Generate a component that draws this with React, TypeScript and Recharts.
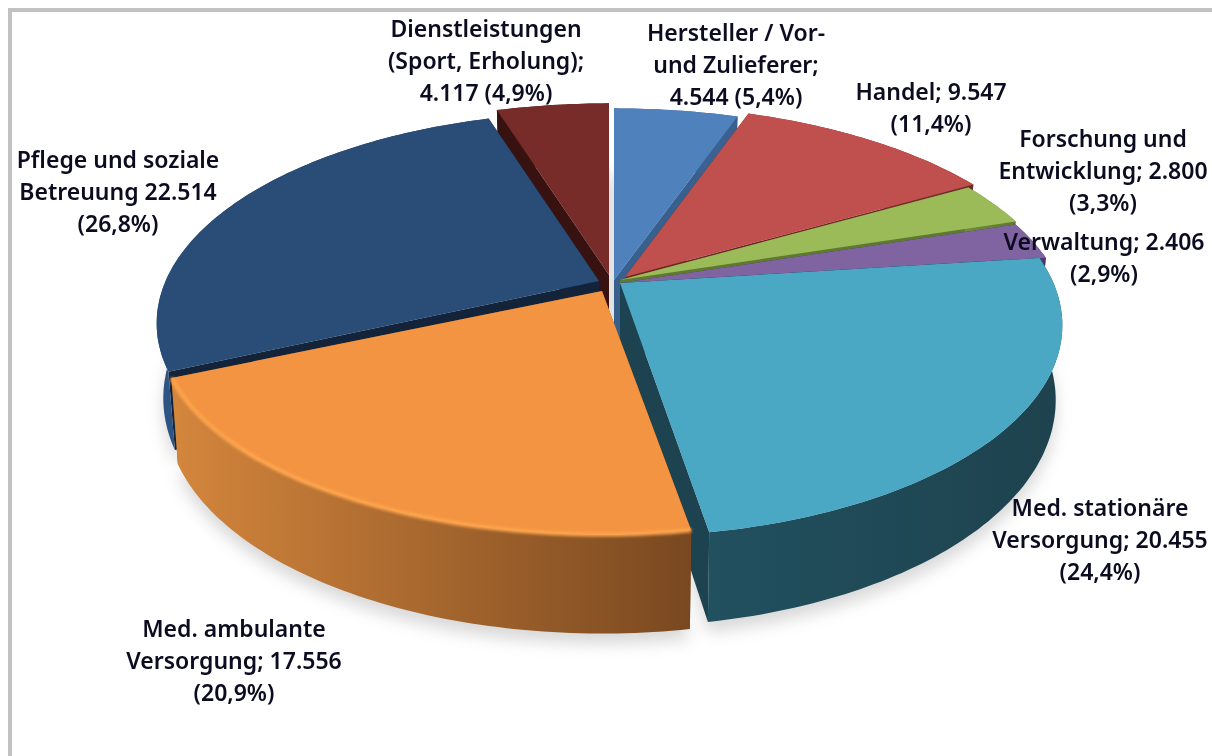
import React from 'react';
import { PieChart, Pie } from 'recharts';

const categories = ['Hersteller / Vor- und Zulieferer', 'Handel', 'Forschung und Entwicklung', 'Verwaltung', 'Med. stationäre Versorgung', 'Med. ambulante Versorgung', 'Pflege und soziale Betreuung', 'Dienstleistungen (Sport, Erholung)'];
const values = [4544, 9547, 2800, 2406, 20455, 17556, 22514, 4117];
const labelLines = [
  ['Hersteller / Vor-', 'und Zulieferer;', '4.544 (5,4%)'],
  ['Handel; 9.547', '(11,4%)'],
  ['Forschung und', 'Entwicklung; 2.800', '(3,3%)'],
  ['Verwaltung; 2.406', '(2,9%)'],
  ['Med. stationäre', 'Versorgung; 20.455', '(24,4%)'],
  ['Med. ambulante', 'Versorgung; 17.556', '(20,9%)'],
  ['Pflege und soziale', 'Betreuung 22.514', '(26,8%)'],
  ['Dienstleistungen', '(Sport, Erholung);', '4.117 (4,9%)'],
];

const topColors = ['#4f81bd', '#c0504d', '#9bbb59', '#8064a2', '#4aa8c5', '#f39442', '#2a4d78', '#772c2a'];
const wallLeft = ['#3f6898', '#8a3835', '#6f8a3c', '#5c4678', '#21505f', '#d4863c', '#2f5585', '#381210'];
const wallRight = ['#3a6090', '#6f2a28', '#5f7a30', '#4c3868', '#1e424e', '#794820', '#1f3a5c', '#381210'];
const cutColors = ['#38608e', '#6e2624', '#5f7a30', '#3e2e58', '#1e4350', '#7a4a20', '#13233a', '#381210'];
const rimColors = ['', '', '', '', '', '#ffa64e', '', ''];
const offsets = [[2, 0], [13, -3], [8, 0], [8, 3], [8, 3], [-10, 11], [-13, 1], [-3, -5]];
const sliceScale = [1, 1, 1, 1, 0.985, 0.985, 0.985, 1];
const sliceSquash = [1, 1, 1, 1, 1, 0.96, 1, 1];
const sliceDepth = [1, 1, 1, 1, 1, 1.1, 1, 1];
const labelX = [736, 931, 1103, 1104, 1100, 234, 118, 486];
const labelY = [41, 100, 147, 250, 516, 637, 168, 37];
const layers = [[7], [0, 1, 2, 3, 4], [6], [5]];

const CX = 612, CY = 280, RX = 440, RY = 206, K = 0.2, DEPTH = 72, SHRINK = 0.985;

const project = (r: number, deg: number, bottom: boolean, i: number) => {
  const t = (deg * Math.PI) / 180;
  const u = (r / RX) * Math.cos(t), v = (r / RX) * Math.sin(t);
  const w = 1 + K * v;
  const s = bottom ? SHRINK : 1;
  const scale = sliceScale[i];
  return [
    (RX * u * s * scale) / w,
    (-RY * v * scale * sliceSquash[i]) / w + (bottom ? (DEPTH * sliceDepth[i]) / w : 0),
  ];
};

const arcPts = (r: number, a: number, b: number, bottom: boolean, i: number) => {
  const n = Math.max(2, Math.ceil(Math.abs(b - a)));
  const pts: number[][] = [];
  for (let k = 0; k <= n; k++) pts.push(project(r, a + ((b - a) * k) / n, bottom, i));
  return pts;
};

const toPath = (pts: number[][], close = true) =>
  'M' + pts.map((p) => `${p[0].toFixed(1)},${p[1].toFixed(1)}`).join('L') + (close ? 'Z' : '');

const Slice = (only: number[]) => (props: any) => {
  const { index, outerRadius: r, cx, cy, startAngle: a, endAngle: b } = props;
  if (!only.includes(index)) return <g />;
  const [ox, oy] = offsets[index];
  const topArc = arcPts(r, a, b, false, index);
  const botArc = arcPts(r, a, b, true, index);
  const top0 = project(0, 0, false, index), bot0 = project(0, 0, true, index);
  const xs = topArc.map((p) => p[0]);
  const gid = `wall-${index}`;
  return (
    <g transform={`translate(${cx + ox},${cy + oy})`}>
      <defs>
        <linearGradient id={gid} gradientUnits="userSpaceOnUse" x1={Math.min(...xs)} x2={Math.max(...xs)} y1={0} y2={0}>
          <stop offset="0" stopColor={wallLeft[index]} />
          <stop offset="1" stopColor={wallRight[index]} />
        </linearGradient>
      </defs>
      <path d={toPath([top0, topArc[0], botArc[0], bot0])} fill={cutColors[index]} />
      <path d={toPath([top0, topArc[topArc.length - 1], botArc[botArc.length - 1], bot0])} fill={cutColors[index]} />
      <path d={toPath([...topArc, ...[...botArc].reverse()])} fill={`url(#${gid})`} />
      <path d={toPath([top0, ...topArc])} fill={topColors[index]} />
      {rimColors[index] && (
        <path d={toPath(topArc, false)} fill="none" stroke={rimColors[index]} strokeWidth={4} style={{ filter: 'blur(1.5px)' }} />
      )}
    </g>
  );
};

const Shadow = (props: any) => {
  const { index, outerRadius: r, cx, cy, startAngle: a, endAngle: b } = props;
  const [ox, oy] = offsets[index];
  return (
    <path
      transform={`translate(${cx + ox},${cy + oy + 10})`}
      d={toPath([project(0, 0, true, index), ...arcPts(r, a, b, true, index)])}
      fill="#a8a8a8"
      opacity={0.45}
      style={{ filter: 'blur(8px)' }}
    />
  );
};

const renderLabel = (props: any) => {
  const i = props.index;
  return (
    <text key={i} x={labelX[i]} y={labelY[i]} textAnchor="middle" fontFamily="'Noto Sans', sans-serif" fontWeight={600} fontSize={23} fill="#0c0c20">
      {labelLines[i].map((l, j) => (
        <tspan key={j} x={labelX[i]} y={labelY[i] + j * 32}>{l}</tspan>
      ))}
    </text>
  );
};

const data = categories.map((name, i) => ({ name, value: values[i] }));

export default function App() {
  const common = {
    data, dataKey: 'value', nameKey: 'name', cx: CX, cy: CY, outerRadius: RX, innerRadius: 0,
    startAngle: 90, endAngle: -270, paddingAngle: 0, isAnimationActive: false, stroke: 'none', rootTabIndex: -1,
  } as const;
  return (
    <div style={{ position: 'fixed', left: 0, top: 0, width: 1212, height: 756, overflow: 'hidden', background: '#fff', filter: 'blur(0.45px)' }}>
      <div style={{ position: 'absolute', left: 8, top: 8, width: 1300, height: 800, borderTop: '4px solid #c2c2c2', borderLeft: '4px solid #c2c2c2' }} />
      <div style={{ position: 'absolute', left: 0, top: 0 }}>
        <PieChart width={1212} height={756} margin={{ top: 0, right: 0, bottom: 0, left: 0 }}>
          <Pie {...common} shape={Shadow} label={false} labelLine={false} />
          {layers.map((only, k) => (
            <Pie key={k} {...common} shape={Slice(only)} labelLine={false} label={k === layers.length - 1 ? renderLabel : false} />
          ))}
        </PieChart>
      </div>
    </div>
  );
}
